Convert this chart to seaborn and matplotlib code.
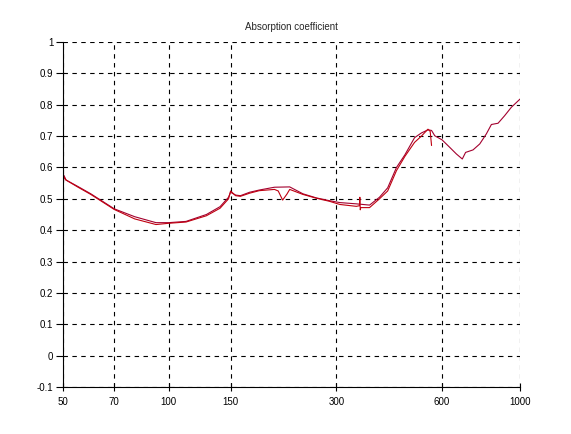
import numpy as np
import pandas as pd
import matplotlib
matplotlib.use('Agg')
import matplotlib.pyplot as plt
import seaborn as sns

# ------------------------------------------------------------
# data
# ------------------------------------------------------------
freq_a = [50, 50.3, 51, 55, 60, 70, 80, 92, 100, 112, 128, 140, 148, 150, 155,
          160, 170, 181, 200, 221, 241, 263, 287, 307, 342, 373, 398, 420, 445,
          470, 501, 524, 547, 560, 572, 600, 631, 659, 685, 700, 735, 768, 802,
          829, 866, 904, 945, 1000]
absorb_a = [0.53, 0.575, 0.560, 0.540, 0.516, 0.468, 0.443, 0.424, 0.424, 0.428,
            0.450, 0.475, 0.505, 0.521, 0.512, 0.510, 0.521, 0.528, 0.537, 0.538,
            0.516, 0.503, 0.494, 0.488, 0.484, 0.480, 0.505, 0.535, 0.600, 0.640,
            0.695, 0.710, 0.720, 0.718, 0.701, 0.688, 0.664, 0.643, 0.627, 0.648,
            0.656, 0.675, 0.707, 0.737, 0.741, 0.765, 0.792, 0.818]

freq_b = [50, 50.3, 51, 55, 60, 70, 80, 92, 100, 112, 128, 140, 148, 150, 155,
          160, 170, 181, 200, 205, 211, 217, 221, 241, 263, 287, 307, 342, 349,
          350, 351, 352, 373, 398, 420, 445, 470, 501, 524, 547, 555, 560]
absorb_b = [0.55, 0.57, 0.56, 0.538, 0.514, 0.466, 0.436, 0.418, 0.422, 0.426,
            0.446, 0.470, 0.500, 0.525, 0.510, 0.508, 0.518, 0.526, 0.530, 0.525,
            0.496, 0.515, 0.530, 0.514, 0.502, 0.492, 0.482, 0.476, 0.478, 0.505,
            0.465, 0.472, 0.472, 0.500, 0.525, 0.590, 0.635, 0.680, 0.700, 0.722,
            0.715, 0.670]

x_ticks = [50, 70, 100, 150, 300, 600, 1000]
x_tick_labels = ['50', '70', '100', '150', '300', '600', '1000']
y_ticks = [-0.1, 0, 0.1, 0.2, 0.3, 0.4, 0.5, 0.6, 0.7, 0.8, 0.9, 1]
y_tick_labels = ['-0.1', '0', '0.1', '0.2', '0.3', '0.4', '0.5', '0.6', '0.7',
                 '0.8', '0.9', '1']

df = pd.concat([
    pd.DataFrame({'freq': freq_a, 'alpha': absorb_a, 'run': 'a'}),
    pd.DataFrame({'freq': freq_b, 'alpha': absorb_b, 'run': 'b'}),
], ignore_index=True)

# ------------------------------------------------------------
# plot
# ------------------------------------------------------------
sns.set_style('white')
plt.rcParams['font.family'] = ['Liberation Sans', 'DejaVu Sans']

fig = plt.figure(figsize=(5.71, 4.34), dpi=100)
ax = fig.add_axes([0.1103, 0.1083, 0.8004, 0.7949])

sns.lineplot(data=df, x='freq', y='alpha', hue='run', units='run',
             estimator=None, sort=False, ax=ax, legend=False,
             palette={'a': '#a3002e', 'b': '#bf0010'}, linewidth=0.8)

ax.set_xscale('log')
ax.set_xlim(50, 1000)
ax.set_ylim(-0.1, 1)
ax.set_xticks(x_ticks)
ax.set_xticklabels(x_tick_labels)
ax.minorticks_off()
ax.set_yticks(y_ticks)
ax.set_yticklabels(y_tick_labels)
ax.set_xlabel('')
ax.set_ylabel('')

ax.grid(True, color='black', linestyle=(0, (4, 4)), linewidth=0.8)
for s in ['top', 'right']:
    ax.spines[s].set_visible(False)
for s in ['left', 'bottom']:
    ax.spines[s].set_color('black')
    ax.spines[s].set_linewidth(0.8)

ax.tick_params(axis='y', direction='out', length=5, width=0.8,
               colors='black', labelsize=7, pad=2, left=True)
ax.tick_params(axis='x', direction='inout', length=6, width=0.8,
               colors='black', labelsize=7, pad=4, bottom=True)
ax.set_title('Absorption coefficient', fontsize=7, pad=9)

fig.savefig('out.png', dpi=100)
